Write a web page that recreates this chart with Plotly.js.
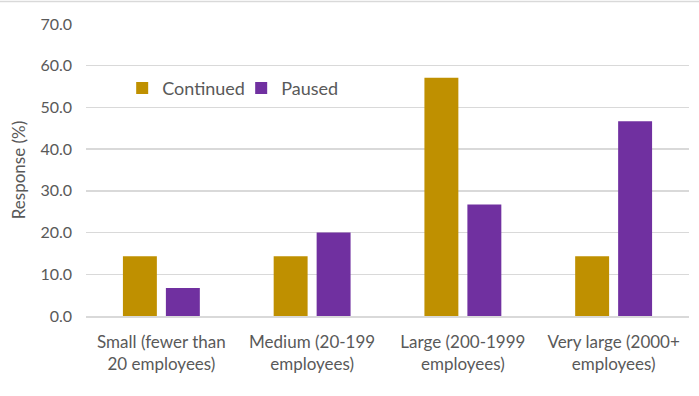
<!DOCTYPE html>
<html><head><meta charset="utf-8">
<script src="https://cdn.plot.ly/plotly-3.0.1.min.js"></script>
<style>html,body{margin:0;padding:0;background:#fff;}#chart{width:699px;height:396px;}</style>
</head><body><div id="chart"></div>
<script>
const categories = ["Small (fewer than<br>20 employees)", "Medium (20-199<br>employees)", "Large (200-1999<br>employees)", "Very large (2000+<br>employees)"];
const continued = [14.3, 14.3, 57.1, 14.3];
const paused = [6.7, 20.0, 26.7, 46.7];
const yTicks = [0, 10, 20, 30, 40, 50, 60, 70];

const font = "Lato, 'Open Sans', sans-serif";
const traces = [
  {type: "bar", name: "Continued", x: categories, y: continued, marker: {color: "#BF9000"}, hoverinfo: "y"},
  {type: "bar", name: "Paused", x: categories, y: paused, marker: {color: "#7030A0"}, hoverinfo: "y"}
];
const layout = {
  width: 699, height: 396,
  margin: {l: 86, r: 10, t: 24, b: 80},
  paper_bgcolor: "#fff", plot_bgcolor: "#fff",
  barmode: "group", bargap: 0.43, bargroupgap: 0.21,
  font: {family: font, color: "#595959", size: 16},
  showlegend: true,
  legend: {orientation: "h", x: 0.06, xanchor: "left", y: 0.78, yanchor: "middle",
    font: {size: 18, color: "#595959"}, bgcolor: "rgba(0,0,0,0)", itemwidth: 30, traceorder: "normal",
    entrywidth: 74},
  xaxis: {type: "category", showgrid: false, showline: true, linecolor: "#D9D9D9", linewidth: 1.5,
    ticks: "", ticklabelstandoff: 10, tickfont: {size: 17, color: "#595959"}, fixedrange: true},
  yaxis: {range: [0, 70], tickvals: yTicks, ticktext: yTicks.map(v => v.toFixed(1)),
    showgrid: true, gridcolor: "#D9D9D9", gridwidth: 1.5, zeroline: false, showline: false,
    ticks: "", ticklabelstandoff: 13, tickfont: {size: 16, color: "#595959"},
    title: {text: "Response (%)", font: {size: 17, color: "#595959"}, standoff: 10}, fixedrange: true},
  shapes: [{type: "line", xref: "paper", yref: "paper", x0: -0.15, x1: 1.03, y0: 1.077, y1: 1.077,
    line: {color: "#D9D9D9", width: 1.5}}]
};
Plotly.newPlot("chart", traces, layout, {displayModeBar: false, staticPlot: true});
</script></body></html>
